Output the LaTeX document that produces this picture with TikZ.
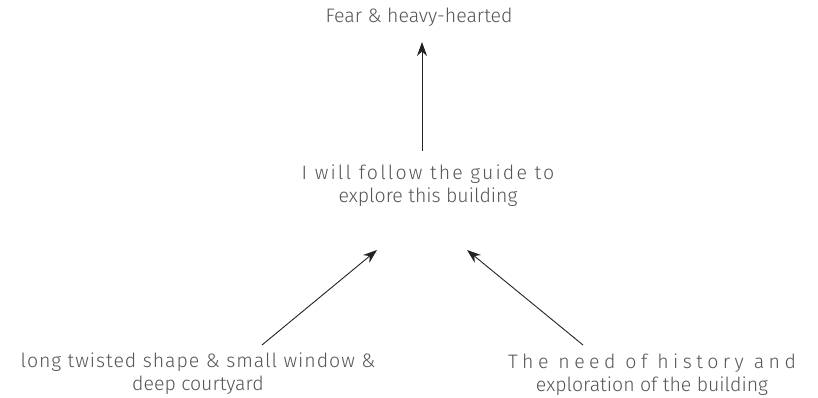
\documentclass[tikz,border=0pt]{standalone}
\usepackage{fontspec}
\setmainfont{Fira Sans}[UprightFont=* Light]
\usetikzlibrary{arrows.meta}
\definecolor{txt}{HTML}{555555}
\definecolor{arr}{HTML}{222222}
\tikzset{
  lbl/.style={text=txt, align=center, inner sep=0pt, font=\fontsize{19.5}{23}\selectfont},
  link/.style={draw=arr, line width=0.9pt, -{Stealth[length=14pt,width=10pt]}}
}
\begin{document}
\begin{tikzpicture}[x=1pt,y=-1pt]
\useasboundingbox (0,0) rectangle (818,398);
\node[lbl] (fear) at (419,17) {Fear \& heavy-hearted};
\node[lbl] (mid) at (428,186) {{\addfontfeature{LetterSpace=11}I will follow the guide to}\\explore this building};
\node[lbl] (left) at (198,374) {{\addfontfeature{LetterSpace=5}long twisted shape \& small window \&}\\deep courtyard};
\node[lbl] (right) at (652,375) {{\addfontfeature{LetterSpace=23}The need of history and}\\exploration of the building};
\coordinate (v0) at (422,151);
\coordinate (v1) at (422,42);
\coordinate (l0) at (262,345);
\coordinate (l1) at (377,250);
\coordinate (r0) at (583,345);
\coordinate (r1) at (467,250);
\draw[link] (v0) -- (v1);
\draw[link] (l0) -- (l1);
\draw[link] (r0) -- (r1);
\end{tikzpicture}
\end{document}
